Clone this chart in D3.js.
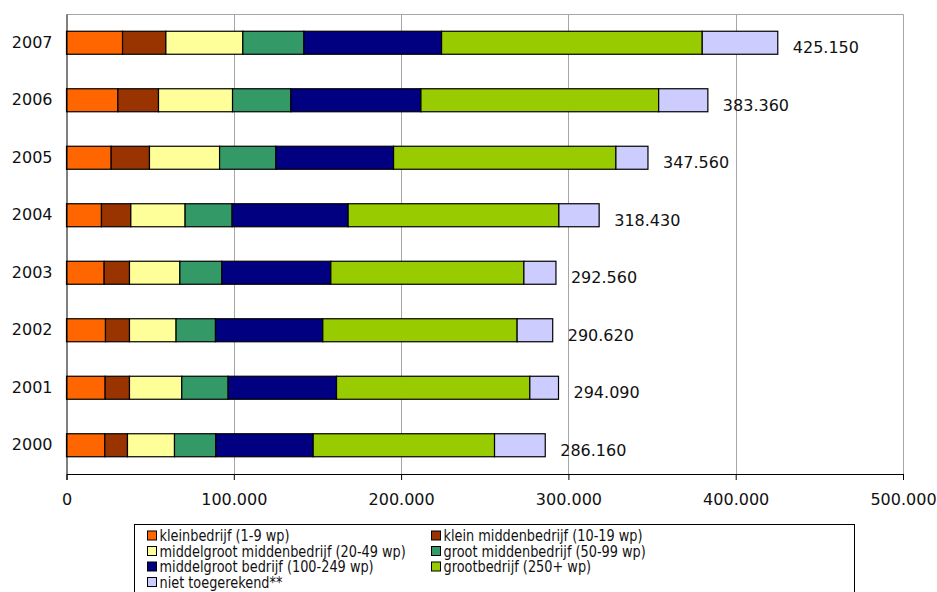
<!DOCTYPE html>
<html>
<head>
<meta charset="utf-8">
<script src="https://cdn.jsdelivr.net/npm/d3@7"></script>
<style>
  html, body { margin: 0; padding: 0; background: #fff; }
  svg { display: block; font-family: "DejaVu Sans", Verdana, sans-serif; }
</style>
</head>
<body>
<svg id="chart" width="937" height="592"></svg>
<script>
const years = ["2000", "2001", "2002", "2003", "2004", "2005", "2006", "2007"];
const seriesNames = [
  "kleinbedrijf (1-9 wp)",
  "klein middenbedrijf (10-19 wp)",
  "middelgroot middenbedrijf (20-49 wp)",
  "groot middenbedrijf (50-99 wp)",
  "middelgroot bedrijf (100-249 wp)",
  "grootbedrijf (250+ wp)",
  "niet toegerekend**"
];
const kleinbedrijf        = [22900, 23100, 23300, 22500, 20900, 26700, 30700, 33500];
const kleinMidden         = [13550, 14550, 14350, 15150, 17550, 22900, 24300, 25900];
const middelgrootMidden   = [28100, 31250, 27850, 30100, 32450, 41900, 44250, 46000];
const grootMidden         = [24700, 27700, 23550, 25100, 28100, 33650, 34850, 36500];
const middelgrootBedrijf  = [58200, 64800, 64150, 65150, 69350, 70350, 77750, 82300];
const grootbedrijf        = [108400, 115550, 116150, 115400, 125950, 132900, 142100, 155800];
const nietToegerekend     = [30310, 17140, 21270, 19160, 24080, 19160, 29410, 45150];
const totals              = [286160, 294090, 290620, 292560, 318430, 347560, 383360, 425150];
const totalLabels         = ["286.160", "294.090", "290.620", "292.560", "318.430", "347.560", "383.360", "425.150"];
const xTicks              = [0, 100000, 200000, 300000, 400000, 500000];
const xTickLabels         = ["0", "100.000", "200.000", "300.000", "400.000", "500.000"];
const colors = ["#FF6600", "#993300", "#FFFF99", "#339966", "#000080", "#99CC00", "#CCCCFF"];

const seriesValues = [kleinbedrijf, kleinMidden, middelgrootMidden, grootMidden, middelgrootBedrijf, grootbedrijf, nietToegerekend];
const keys = seriesValues.map((_, i) => "s" + i);
const table = years.map((y, j) => {
  const row = { year: y };
  seriesValues.forEach((arr, i) => row[keys[i]] = arr[j]);
  return row;
});

const svg = d3.select("#chart");
const plot = { left: 66.5, right: 903, top: 14, bottom: 474 };

const x = d3.scaleLinear().domain([0, 500000]).range([plot.left, plot.right]);
const y = d3.scaleBand().domain(years.slice().reverse()).range([plot.top, plot.bottom])
  .paddingInner(0.6).paddingOuter(0.3);

// gridlines
svg.append("g").selectAll("line").data(xTicks.slice(1, -1)).join("line")
  .attr("x1", d => Math.round(x(d)) + 0.5).attr("x2", d => Math.round(x(d)) + 0.5)
  .attr("y1", plot.top).attr("y2", plot.bottom)
  .attr("stroke", "#a6a6a6").attr("stroke-width", 1);

// plot border (top, right)
svg.append("path")
  .attr("d", `M${plot.left},${plot.top + 0.5}H${Math.round(plot.right) + 0.5}V${plot.bottom}`)
  .attr("fill", "none").attr("stroke", "#a6a6a6").attr("stroke-width", 1);

// stacked bars
const stack = d3.stack().keys(keys)(table);
const layers = svg.append("g").selectAll("g").data(stack).join("g")
  .attr("fill", (d, i) => colors[i]);
layers.selectAll("rect").data(d => d).join("rect")
  .attr("x", d => x(d[0]))
  .attr("y", d => y(d.data.year))
  .attr("width", d => x(d[1]) - x(d[0]))
  .attr("height", y.bandwidth())
  .attr("stroke", "#000").attr("stroke-width", 1.2);

// bottom axis
const xAxis = d3.axisBottom(x).tickValues(xTicks).tickSize(6)
  .tickFormat((d, i) => xTickLabels[i]);
const gx = svg.append("g").attr("transform", `translate(0,${plot.bottom})`).call(xAxis);
gx.select(".domain").attr("stroke", "#000");
gx.selectAll(".tick line").attr("stroke", "#000");
gx.selectAll(".tick text").attr("font-size", "16px").attr("fill", "#111")
  .attr("font-family", "DejaVu Sans, Verdana, sans-serif").attr("dy", "1.4em");

// left axis
const yAxis = d3.axisLeft(y).tickSize(0).tickPadding(14);
const gy = svg.append("g").attr("transform", `translate(${plot.left},0)`).call(yAxis);
gy.select(".domain").attr("stroke", "#000");
gy.selectAll(".tick text").attr("font-size", "16px").attr("fill", "#111")
  .attr("font-family", "DejaVu Sans, Verdana, sans-serif");

// total labels
svg.append("g").selectAll("text").data(years).join("text")
  .attr("x", (d, i) => x(totals[i]) + 15)
  .attr("y", d => y(d) + y.bandwidth() / 2 + 5)
  .attr("dy", "0.35em")
  .attr("font-size", "16px").attr("fill", "#111")
  .text((d, i) => totalLabels[i]);

// legend
const lg = svg.append("g");
lg.append("rect").attr("x", 134.5).attr("y", 524.5).attr("width", 720).attr("height", 80)
  .attr("fill", "#fff").attr("stroke", "#000").attr("stroke-width", 1);
const colX = [147.5, 431.5];
const rowY = [536, 551.5, 567, 582.5];
seriesNames.forEach((name, i) => {
  const cx = colX[i % 2], cy = rowY[Math.floor(i / 2)];
  lg.append("rect").attr("x", cx).attr("y", cy - 5).attr("width", 9).attr("height", 9)
    .attr("fill", colors[i]).attr("stroke", "#000").attr("stroke-width", 1);
  lg.append("text")
    .attr("transform", `translate(${cx + 12},${cy}) scale(0.86,1)`)
    .attr("dy", "0.35em")
    .attr("font-size", "15px").attr("fill", "#111")
    .text(name);
});
</script>
</body>
</html>
